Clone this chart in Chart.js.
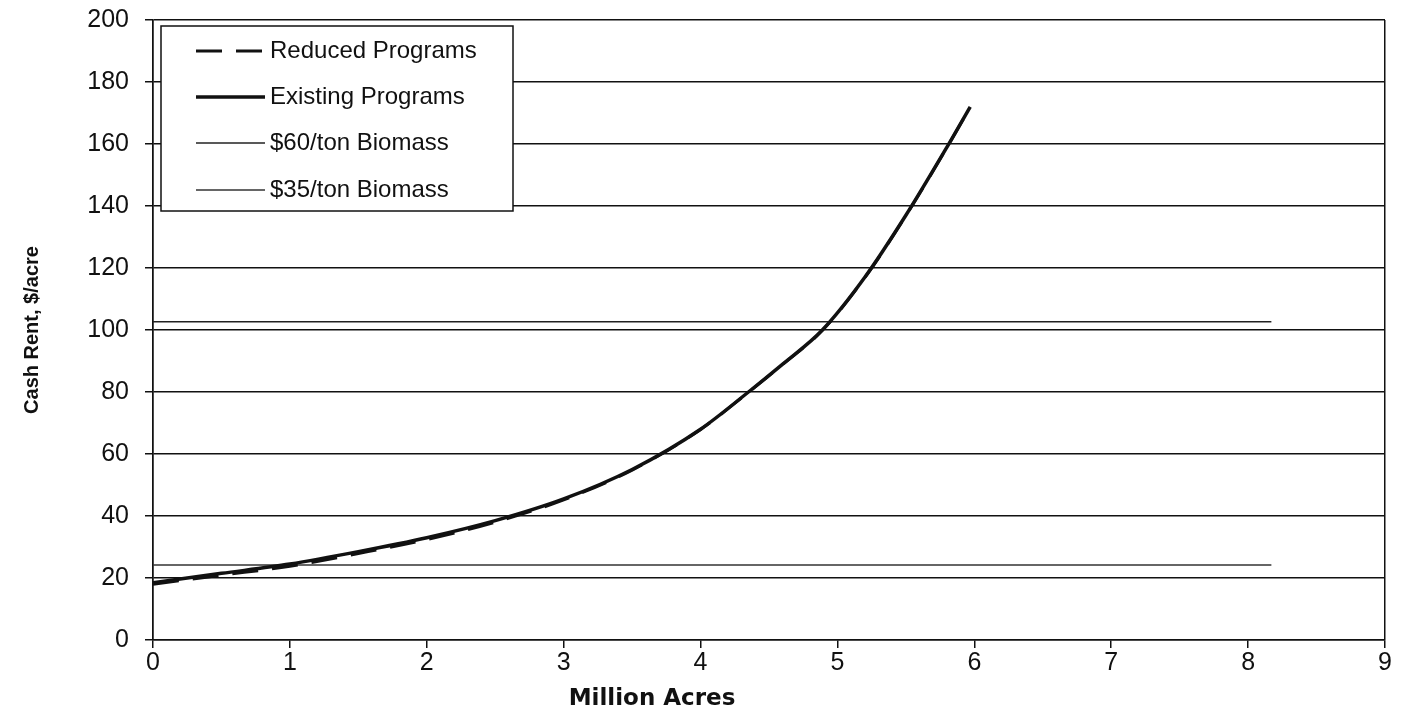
<!DOCTYPE html>
<html>
<head>
<meta charset="utf-8">
<script src="https://cdn.jsdelivr.net/npm/chart.js@4/dist/chart.umd.min.js"></script>
<style>
	html, body { margin: 0; padding: 0; background: #fff; }
	#wrap { width: 1404px; height: 715px; }
</style>
</head>
<body>
<div id="wrap"><canvas id="chart" width="1404" height="715"></canvas></div>
<script>
// values
const acres = [0, 0.5, 1, 1.5, 2, 2.5, 3, 3.5, 4, 4.35, 4.6, 4.89, 5.2, 5.5, 5.8, 5.97];
const existingPrograms = [18.5, 21.5, 24.5, 28.5, 33, 38.5, 45.5, 55, 68, 80, 89, 100, 117, 137, 159, 172];
const reducedPrograms = [18, 20.9, 23.8, 27.9, 32.4, 38, 45.2, 54.8, 67.9, 79.9, 88.9, 99.9, 116.9, 136.9, 158.9, 171.9];
const biomassAcres = [0, 8.17];
const biomass60 = [102.7, 102.7];
const biomass35 = [24.2, 24.2];
const yTicks = [0, 20, 40, 60, 80, 100, 120, 140, 160, 180, 200];
const xTicks = [0, 1, 2, 3, 4, 5, 6, 7, 8, 9];

const toPoints = (xs, ys) => xs.map((x, i) => ({ x: x, y: ys[i] }));

const legendBox = {
	id: 'legendBox',
	afterDraw(chart) {
		const ctx = chart.ctx;
		const sets = chart.data.datasets;
		ctx.save();
		ctx.fillStyle = '#fff';
		ctx.fillRect(161, 26, 352, 185);
		ctx.strokeStyle = '#111';
		ctx.lineWidth = 1.5;
		ctx.strokeRect(161, 26, 352, 185);
		ctx.font = '24px "Liberation Sans", Arial, sans-serif';
		ctx.textBaseline = 'middle';
		ctx.fillStyle = '#111';
		const rows = [51, 97, 143, 190];
		sets.forEach((ds, i) => {
			const y = rows[i];
			ctx.beginPath();
			ctx.strokeStyle = ds.borderColor;
			ctx.lineWidth = ds.borderWidth;
			ctx.setLineDash(ds.borderDash || []);
			ctx.moveTo(196, y);
			ctx.lineTo(265, y);
			ctx.stroke();
			ctx.setLineDash([]);
			ctx.fillText(ds.label, 270, y);
		});
		// x axis title
		ctx.font = 'bold 23px "DejaVu Sans", sans-serif';
		ctx.textAlign = 'center';
		ctx.fillText('Million Acres', 652, 699);
		ctx.restore();
	}
};

new Chart(document.getElementById('chart').getContext('2d'), {
	type: 'line',
	data: {
		datasets: [{
			label: 'Reduced Programs',
			data: toPoints(acres, reducedPrograms),
			borderColor: '#111',
			borderWidth: 3,
			borderDash: [26, 14],
			pointRadius: 0,
			cubicInterpolationMode: 'monotone'
		}, {
			label: 'Existing Programs',
			data: toPoints(acres, existingPrograms),
			borderColor: '#111',
			borderWidth: 3.5,
			pointRadius: 0,
			cubicInterpolationMode: 'monotone'
		}, {
			label: '$60/ton Biomass',
			data: toPoints(biomassAcres, biomass60),
			borderColor: '#222',
			borderWidth: 1.5,
			pointRadius: 0
		}, {
			label: '$35/ton Biomass',
			data: toPoints(biomassAcres, biomass35),
			borderColor: '#333',
			borderWidth: 1.5,
			pointRadius: 0
		}]
	},
	options: {
		responsive: false,
		animation: false,
		layout: { padding: { top: 20, right: 19, left: 0, bottom: 0 } },
		plugins: {
			legend: { display: false },
			tooltip: { enabled: false }
		},
		scales: {
			x: {
				type: 'linear',
				min: 0,
				max: 9,
				afterBuildTicks: s => { s.ticks = xTicks.map(v => ({ value: v })); },
				afterFit: s => { s.height = 75; s.paddingLeft = 0; s.paddingRight = 0; },
				border: { display: true, color: '#111', width: 1.5 },
				grid: {
					color: c => (c.tick && (c.tick.value === 0 || c.tick.value === 9)) ? '#111' : 'rgba(0,0,0,0)',
					tickColor: '#111',
					lineWidth: 1.5,
					tickLength: 8
				},
				ticks: {
					color: '#111',
					padding: 0,
					maxRotation: 0,
					font: { family: '"Liberation Sans", Arial, sans-serif', size: 25 }
				}
			},
			y: {
				min: 0,
				max: 200,
				afterBuildTicks: s => { s.ticks = yTicks.map(v => ({ value: v })); },
				afterFit: s => { s.width = 153; s.paddingTop = 0; s.paddingBottom = 0; },
				border: { display: true, color: '#111', width: 1.5 },
				grid: {
					color: '#111',
					lineWidth: 1.5,
					tickLength: 8
				},
				ticks: {
					color: '#111',
					padding: 16,
					font: { family: '"Liberation Sans", Arial, sans-serif', size: 25 }
				},
				title: {
					display: true,
					text: 'Cash Rent, $/acre',
					color: '#111',
					padding: { top: 20, bottom: 0 },
					font: { family: '"Liberation Sans", Arial, sans-serif', size: 20, weight: 'bold' }
				}
			}
		}
	},
	plugins: [legendBox]
});
</script>
</body>
</html>
